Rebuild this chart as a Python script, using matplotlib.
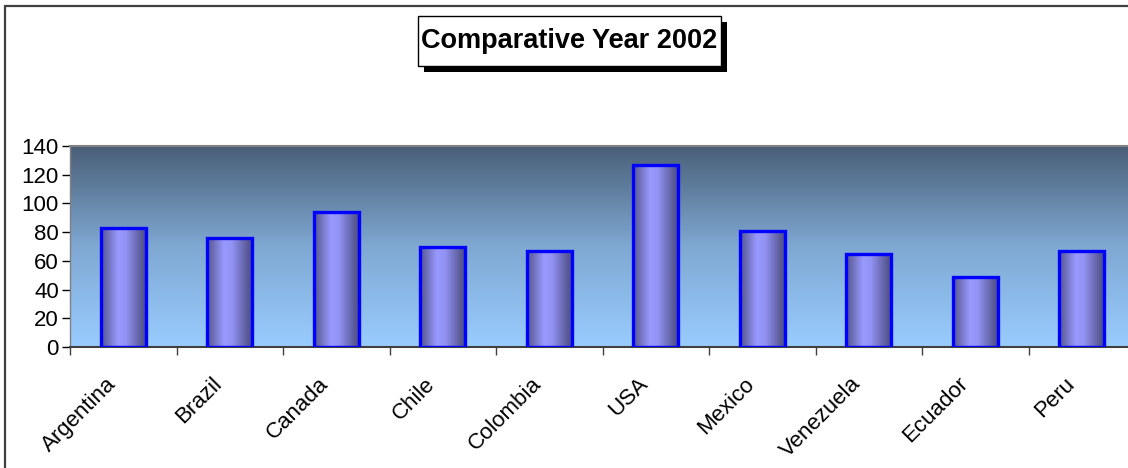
import numpy as np
import matplotlib.pyplot as plt
from matplotlib.colors import LinearSegmentedColormap
from matplotlib.patches import Rectangle
from matplotlib.transforms import ScaledTranslation

countries = ["Argentina", "Brazil", "Canada", "Chile", "Colombia",
             "USA", "Mexico", "Venezuela", "Ecuador", "Peru"]
values = [83, 76, 94, 70, 67, 127, 81, 65, 49, 67]
y_ticks = [0, 20, 40, 60, 80, 100, 120, 140]
title = "Comparative Year 2002"

plt.rcParams['font.family'] = ['Liberation Sans', 'DejaVu Sans']

W, H = 1128, 468
fig = plt.figure(figsize=(W / 100, H / 100), dpi=100, facecolor='white')

# plot area in pixels: left 70, top 146, right 1135 (runs off the edge), bottom 347
ax = fig.add_axes([70 / W, 1 - 347 / H, 1065 / W, 201 / H])
n = len(countries)

# background: vertical gradient, dark slate at top to light sky blue at bottom
bg = LinearSegmentedColormap.from_list('bg', ['#99ccff', '#7fa8d2', '#4a5f78'])
grad = np.linspace(0, 1, 256).reshape(-1, 1)
ax.imshow(grad, cmap=bg, origin='lower', aspect='auto',
          extent=(0, n, 0, 140), zorder=0)

# cylinder-like shading for each bar
cyl = LinearSegmentedColormap.from_list(
    'cyl', [(0.0, '#55558c'), (0.38, '#9999ff'), (0.55, '#9393f5'), (1.0, '#4b4b80')])
hgrad = np.linspace(0, 1, 256).reshape(1, -1)
width = 0.42
centers = np.arange(n) + 0.5
bars = ax.bar(centers, values, width=width, facecolor='none',
              edgecolor='#0000ff', linewidth=2.4, zorder=3)
for b in bars:
    x0 = b.get_x()
    ax.imshow(hgrad, cmap=cyl, aspect='auto',
              extent=(x0, x0 + b.get_width(), 0, b.get_height()), zorder=2)
ax.set_xlim(0, n)
ax.set_ylim(0, 140)

# axes styling
ax.spines['right'].set_visible(False)
ax.spines['top'].set_color('#808080')
ax.spines['top'].set_linewidth(1.5)
ax.spines['left'].set_color('#808080')
ax.spines['left'].set_linewidth(1.0)
ax.spines['bottom'].set_color('#404040')
ax.spines['bottom'].set_linewidth(1.5)

ax.set_yticks(y_ticks)
ax.tick_params(axis='y', labelsize=16, length=6, width=1, color='black', pad=2)

ax.set_xticks(np.arange(n + 1))
ax.set_xticklabels([])
ax.tick_params(axis='x', which='major', length=6, width=1, color='#404040')
ax.set_xticks(centers, minor=True)
ax.set_xticklabels(countries, minor=True, rotation=45, ha='right',
                   va='top', rotation_mode='anchor', fontsize=16)
ax.tick_params(axis='x', which='minor', length=0, pad=19)
shift = ScaledTranslation(-13 / 72, 0, fig.dpi_scale_trans)
for lab in ax.get_xticklabels(minor=True):
    lab.set_transform(lab.get_transform() + shift)

# outer chart border (the frame runs past the right and bottom edges)
fig.patches.append(Rectangle((5 / W, -0.1), 1.2, 1 - 6 / H + 0.1,
                             transform=fig.transFigure, fill=False,
                             edgecolor='#404040', linewidth=1.6))

# title box with drop shadow
bx0, by0, bx1, by1 = 418, 16, 721, 66
sh = 6
fig.patches.append(Rectangle(((bx0 + sh) / W, 1 - (by1 + sh) / H),
                             (bx1 - bx0) / W, (by1 - by0) / H,
                             transform=fig.transFigure, facecolor='black',
                             edgecolor='none'))
fig.patches.append(Rectangle((bx0 / W, 1 - by1 / H),
                             (bx1 - bx0) / W, (by1 - by0) / H,
                             transform=fig.transFigure, facecolor='white',
                             edgecolor='black', linewidth=1.0))
fig.text((bx0 + bx1) / 2 / W, 1 - (by0 + by1) / 2 / H, title,
         ha='center', va='center', fontsize=19.5, fontweight='bold')

fig.savefig('out.png', dpi=100, facecolor='white')
